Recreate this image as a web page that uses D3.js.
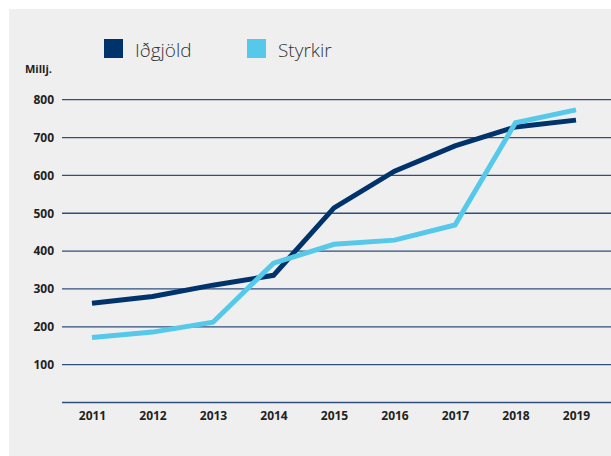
<!DOCTYPE html>
<html>
<head>
<meta charset="utf-8">
<script src="https://cdn.jsdelivr.net/npm/d3@7"></script>
<style>
  body { margin: 0; background: #fff; }
  svg { display: block; }
</style>
</head>
<body>
<div id="chart"></div>
<script>
// data (millj.)
var years = ["2011", "2012", "2013", "2014", "2015", "2016", "2017", "2018", "2019"];
var idgjold = [262, 280, 310, 336, 514, 611, 678, 728, 746];
var styrkir = [172, 186, 212, 368, 418, 429, 469, 739, 773];
var yTicks = [100, 200, 300, 400, 500, 600, 700, 800];
var seriesNames = ["Iðgjöld", "Styrkir"];
var seriesColors = ["#00336b", "#56c9eb"];

var svgwidth = 611, svgheight = 456;

var svg = d3.select('#chart')
	.append('svg')
		.attr('width', svgwidth)
		.attr('height', svgheight);

// grey panel
svg.append('rect')
	.attr('x', 9)
	.attr('y', 9)
	.attr('width', svgwidth - 9)
	.attr('height', svgheight - 9)
	.attr('fill', '#efefef');

var y = d3.scaleLinear()
	.domain([0, 800])
	.range([402.5, 99.7]);

var x = d3.scalePoint()
	.domain(years)
	.range([92, 576]);

// gridlines
var grid = svg.append('g').attr('class', 'grid');
grid.selectAll('line')
	.data([0].concat(yTicks))
	.enter().append('line')
		.attr('x1', 62)
		.attr('x2', svgwidth)
		.attr('y1', function(d) { return y(d); })
		.attr('y2', function(d) { return y(d); })
		.attr('stroke', '#2f4f7d')
		.attr('stroke-width', 1.3);

// y axis labels
var yAxis = d3.axisLeft(y)
	.tickValues(yTicks)
	.tickSize(0)
	.tickPadding(0);

var gY = svg.append('g')
	.attr('transform', 'translate(54,0)')
	.call(yAxis);
gY.select('.domain').remove();
gY.selectAll('text')
	.attr('font-family', '"Open Sans", sans-serif')
	.attr('font-weight', 'bold')
	.attr('font-size', 12)
	.attr('fill', '#222');

// x axis labels
var xAxis = d3.axisBottom(x)
	.tickSize(0)
	.tickPadding(0);

var gX = svg.append('g')
	.attr('transform', 'translate(0,411)')
	.call(xAxis);
gX.select('.domain').remove();
gX.selectAll('text')
	.attr('font-family', '"Open Sans", sans-serif')
	.attr('font-weight', 'bold')
	.attr('font-size', 12)
	.attr('fill', '#222');

// unit label
svg.append('text')
	.attr('x', 25)
	.attr('y', 73)
	.attr('font-family', '"Open Sans", sans-serif')
	.attr('font-weight', 'bold')
	.attr('font-size', 11)
	.attr('fill', '#222')
	.text('Millj.');

// lines
var line = d3.line()
	.x(function(d, i) { return x(years[i]); })
	.y(function(d) { return y(d); });

[idgjold, styrkir].forEach(function(values, index) {
	svg.append('path')
		.datum(values)
		.attr('fill', 'none')
		.attr('stroke', seriesColors[index])
		.attr('stroke-width', 5)
		.attr('stroke-linejoin', 'miter')
		.attr('d', line);
});

// legend
var legendX = [104, 247];
seriesNames.forEach(function(name, index) {
	var legend = svg.append('g');
	legend.append('rect')
		.attr('x', legendX[index])
		.attr('y', 39)
		.attr('width', 19)
		.attr('height', 19)
		.attr('fill', seriesColors[index]);
	legend.append('text')
		.attr('x', legendX[index] + 31)
		.attr('y', 57)
		.attr('font-family', '"Open Sans", sans-serif')
		.attr('font-weight', 300)
		.attr('font-size', 19)
		.attr('fill', '#333')
		.text(name);
});
</script>
</body>
</html>
